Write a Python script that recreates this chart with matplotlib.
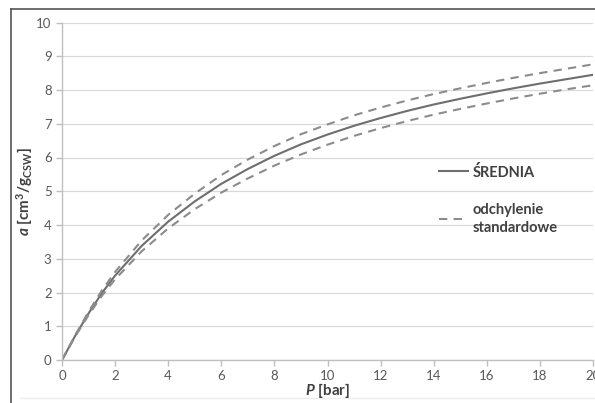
import numpy as np
import matplotlib.pyplot as plt
from matplotlib.lines import Line2D

plt.rcParams['font.family'] = ['Lato', 'DejaVu Sans']
plt.rcParams['mathtext.fontset'] = 'custom'
plt.rcParams['mathtext.rm'] = 'Lato:bold'
plt.rcParams['mathtext.it'] = 'Lato:bold:italic'
plt.rcParams['mathtext.bf'] = 'Lato:bold'

# values
P = [0, 0.5, 1, 1.5, 2, 3, 4, 5, 6, 7, 8, 9, 10, 11, 12, 13, 14, 15, 16, 17, 18, 19, 20]
srednia = [0, 0.72, 1.38, 1.98, 2.50, 3.38, 4.10, 4.70, 5.22, 5.66, 6.05, 6.39,
           6.68, 6.94, 7.17, 7.38, 7.57, 7.74, 7.90, 8.05, 8.19, 8.32, 8.45]
gorna = [0, 0.74, 1.43, 2.06, 2.61, 3.54, 4.30, 4.93, 5.48, 5.94, 6.34, 6.69,
         6.98, 7.25, 7.48, 7.69, 7.88, 8.05, 8.21, 8.36, 8.50, 8.63, 8.76]
dolna = [0, 0.70, 1.33, 1.90, 2.39, 3.22, 3.90, 4.47, 4.96, 5.38, 5.76, 6.09,
         6.38, 6.64, 6.87, 7.08, 7.27, 7.44, 7.60, 7.75, 7.89, 8.02, 8.14]

fig = plt.figure(figsize=(5.95, 4.03), dpi=100)
ax = fig.add_axes([62/595, 1-360/403, 531/595, (360-22.5)/403])

ax.plot(P, srednia, color='#6e6e6e', lw=1.5, label='ŚREDNIA')
ax.plot(P, gorna, color='#8c8c8c', lw=1.5, ls=(0, (4, 3)), label='odchylenie\nstandardowe')
ax.plot(P, dolna, color='#8c8c8c', lw=1.5, ls=(0, (4, 3)))

ax.set_xlim(0, 20)
ax.set_ylim(0, 10)
ax.set_xticks(range(0, 21, 2))
ax.set_yticks(range(0, 11))
ax.grid(axis='y', color='#d9d9d9', lw=0.9)
ax.set_axisbelow(True)
for s in ['top', 'right']:
    ax.spines[s].set_visible(False)
for s in ['left', 'bottom']:
    ax.spines[s].set_color('#bfbfbf')
    ax.spines[s].set_linewidth(1.0)
ax.tick_params(colors='#bfbfbf', labelcolor='#595959', labelsize=9.5, length=4, width=1.0)

ax.set_xlabel(r'$P$ [bar]', fontsize=11, color='#404040', fontweight='bold')
ax.set_ylabel(r'$a$ [cm$^3$/g$_{\mathrm{CSW}}$]', fontsize=11, color='#404040', fontweight='bold')
ax.xaxis.set_label_coords(0.5, -0.063)
ax.yaxis.set_label_coords(-0.05, 0.5)

leg = ax.legend(loc='upper left', bbox_to_anchor=(0.685, 0.618), frameon=False,
                handlelength=2.0, handletextpad=0.3, labelspacing=1.6,
                prop={'weight': 'bold', 'size': 10.5})
for t in leg.get_texts():
    t.set_color('#404040')
    t.set_linespacing(1.35)

# chart frame
fig.add_artist(Line2D([11/595, 11/595], [0, 1-9/403], color='#555555', lw=1.2))
fig.add_artist(Line2D([11/595, 1], [1-9/403, 1-9/403], color='#555555', lw=1.2))
fig.add_artist(Line2D([20/595, 1], [1-398/403, 1-398/403], color='#eeeeee', lw=1.0, zorder=-1))

fig.savefig('out.png', dpi=100)
